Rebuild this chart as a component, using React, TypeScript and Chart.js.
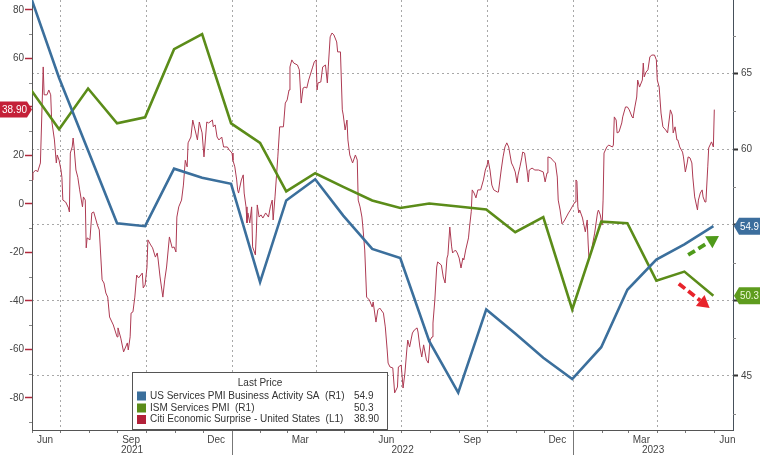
import React, { useEffect, useRef } from 'react';
import { Chart, registerables } from 'chart.js';

Chart.register(...registerables);

const FONT = "'Liberation Sans', Arial, sans-serif";
const BASE = Date.UTC(2021, 5, 1);
function dayOf(s: string): number {
  const [y, m, d] = s.split('-').map(Number);
  return Math.round((Date.UTC(y, m - 1, d) - BASE) / 86400000);
}

// ---- monthly PMI series (month-end) ----
const pmiDates = [
  '2021-05-31', '2021-06-30', '2021-07-31', '2021-08-31', '2021-09-30', '2021-10-31', '2021-11-30', '2021-12-31',
  '2022-01-31', '2022-02-28', '2022-03-31', '2022-04-30', '2022-05-31', '2022-06-30', '2022-07-31', '2022-08-31',
  '2022-09-30', '2022-10-31', '2022-11-30', '2022-12-31', '2023-01-31', '2023-02-28', '2023-03-31', '2023-04-30',
  '2023-05-31',
];
const usServicesPmi = [70.0, 64.7, 59.9, 55.1, 54.9, 58.7, 58.1, 57.7, 51.2, 56.6, 58.0, 55.6, 53.4, 52.8, 47.3, 43.9, 49.4, 47.8, 46.2, 44.8, 46.9, 50.7, 52.7, 53.7, 54.9];
const ismServicesPmi = [63.9, 61.3, 64.0, 61.7, 62.1, 66.6, 67.6, 61.7, 60.4, 57.2, 58.4, 57.5, 56.6, 56.1, 56.4, 56.2, 56.0, 54.5, 55.5, 49.4, 55.2, 55.1, 51.3, 51.9, 50.3];

// ---- daily Citi Economic Surprise (days since 2021-06-01) ----
const citiDays = [
  0, 1, 4, 6, 9, 12, 13, 16, 18, 20, 21, 24, 26, 27, 29, 31, 32, 33, 36, 39, 40, 41, 43, 44, 45, 47, 49, 51, 54, 55,
  57, 58, 59, 62, 64, 66, 70, 72, 75, 77, 79, 81, 83, 87, 91, 92, 95, 98, 102, 103, 105, 106, 108, 110, 112, 114, 118, 119, 121, 123,
  124, 127, 129, 132, 134, 135, 137, 140, 142, 144, 147, 150, 152, 154, 155, 157, 160, 162, 164, 166, 167, 170, 172, 174, 177, 179, 182, 184, 187, 189,
  193, 194, 196, 198, 200, 203, 205, 209, 211, 214, 215, 217, 219, 220, 221, 224, 226, 227, 229, 230, 231, 233, 235, 236, 239, 240, 241, 243, 245, 247,
  250, 253, 255, 257, 258, 260, 263, 265, 269, 271, 273, 275, 276, 278, 280, 284, 286, 288, 290, 292, 294, 296, 300, 302, 304, 305, 306, 309, 311, 314,
  316, 317, 319, 321, 323, 326, 327, 330, 332, 333, 335, 337, 338, 340, 343, 346, 348, 349, 351, 353, 354, 356, 358, 361, 364, 365, 368, 370, 372, 376,
  378, 380, 381, 383, 386, 388, 391, 392, 395, 397, 399, 401, 402, 404, 407, 409, 412, 413, 415, 417, 419, 422, 424, 426, 428, 429, 431, 433, 434, 438,
  440, 442, 444, 445, 447, 449, 450, 453, 455, 457, 459, 461, 462, 464, 467, 468, 470, 471, 473, 475, 477, 480, 483, 485, 487, 488, 490, 492, 494, 498,
  499, 502, 504, 506, 508, 510, 513, 515, 517, 519, 520, 522, 524, 525, 527, 530, 531, 532, 535, 538, 542, 547, 549, 551, 552, 555, 557, 560, 562, 563,
  565, 567, 568, 570, 574, 576, 579, 581, 582, 583, 584, 585, 586, 589, 590, 592, 594, 595, 596, 598, 600, 602, 605, 606, 608, 610, 611, 612, 615, 617,
  621, 622, 623, 625, 626, 628, 631, 632, 635, 637, 639, 642, 643, 645, 647, 648, 650, 653, 654, 655, 657, 659, 661, 663, 666, 668, 669, 671, 673, 675,
  678, 680, 683, 685, 686, 688, 690, 691, 693, 696, 697, 699, 701, 702, 704, 706, 707, 709, 712, 713, 715, 717, 718, 720, 721, 723, 724, 727, 729, 730,
];
const citiValues = [
  9.9, 12.8, 14, 13.2, 16.9, 56.5, 45, 45, 47, 45, 34.6, 26.4, 16.9, 20.2, 18, 14, 11, 1.6, 0.8, -1.6, -3.3, 21, 23.5, 27.2, 23.5, 14, 11, 5.8, -1.2, 2.9,
  1.6, -18.1, -14, -14.8, -3.7, -3.3, -8.7, -10.7, -31.3, -32.6, -36.7, -38.4, -46.6, -49.9, -54.8, -51.1, -55.3, -61, -57.3, -60.2, -54.8, -45, -44.5, -38.4, -29.3, -30.5, -28.5, -34.6, -33.4, -26,
  -14.8, -16.9, -18.1, -21.9, -20.2, -23.1, -30.1, -38.4, -31.3, -26, -13.6, -18.1, -17.7, -19.8, -5.4, -1.2, 1.6, 7.8, 18, 15.3, 25.2, 27.6, 34.6, 31.3, 26.4, 33.8, 29.3, 19.4, 33.8, 33.4,
  34.6, 31.8, 32.6, 27.6, 26.4, 27.6, 23.5, 23.5, 22.3, 21, 18, 15.3, 9.9, 5.8, 4.5, 9.9, 12, 4.5, -1.2, -7.8, -3.7, -7.8, -1.2, -17.7, -21, -12, -0.4, -5.4, -4.5, -5.8,
  -3.7, -5.4, -1.2, 1.6, -6.6, 2.9, 19.4, 31.8, 31.8, 41.6, 42.9, 47, 56.5, 59.4, 58.1, 57.3, 55.3, 41.6, 47.8, 48.2, 47.8, 51.1, 56.1, 58.6, 59.4, 47, 49.9, 50.3, 56.5, 57.3,
  49.9, 56.5, 68.9, 70.5, 69.7, 66.8, 62.7, 62.7, 38.8, 36.7, 30.5, 34.6, 26.4, 20.2, 16.9, 20.2, 18.1, 1.6, -1.2, -5.4, -9.5, -19, -38.4, -39.6, -42.5, -40.4, -48.7, -43.7, -42.9, -45,
  -50.7, -60.2, -65.6, -67.2, -67.6, -77.9, -75.5, -67.2, -66.4, -75.9, -69.7, -60.2, -56.1, -59, -53.2, -52, -51.1, -52.8, -59, -63.1, -58.1, -64.3, -65.6, -56.1, -54.8, -49.1, -39.6, -26, -23.9, -25.2,
  -30.1, -32.6, -22.3, -21, -9.5, -17.7, -20.2, -19, -20.2, -22.3, -26.4, -22.3, -23.1, -19, -14, -9.9, -3, 5.8, 4.5, 2.5, 5.8, 5.8, 9.9, 14, 16.1, 18.1, 14, 7.8, 5.8, 4.9,
  4.9, 14, 19.4, 23.5, 25.2, 23.5, 16.9, 15.3, 13.2, 8.7, 11.9, 15.3, 19, 21.4, 21, 12.8, 9.1, 14, 14.8, 14, 14, 13.2, 9.1, 12.8, 19.4, 19, 18.1, 16.9, 11.1, 1.6,
  -2.5, -8.2, -7.8, -6.6, -3.7, -2.5, -0.4, 0.8, 9.9, 9.3, -1.2, -3.7, -2.5, -5.8, -7.8, -11.5, -6.6, -16.1, -23.1, -20.2, -16.1, -12, -3.7, -2.5, -4.5, -8.7, 1.6, 21, 23.5, 24.3,
  23.5, 24.3, 35.9, 34.6, 29.3, 29.7, 33.4, 35.9, 40, 40, 38.8, 35.9, 35.5, 40, 44.1, 51.1, 48.2, 51.1, 58.1, 52.4, 54.4, 55.3, 60.6, 61.4, 61.4, 59.4, 51.1, 48.2, 37.5, 31.8,
  30.5, 29.3, 38.8, 36.7, 29.3, 31.8, 26.4, 26.4, 23.5, 21.4, 19.4, 13.2, 16.9, 19.4, 19, 16.9, 11.1, 2.9, -2.5, 1.6, 4.5, 5.8, 2.9, 0.8, 0.8, 15.3, 23.1, 25.6, 23.5, 38.9,
];

// ---- axes / labels ----
const xLabelDates = ['2021-06-15', '2021-09-15', '2021-12-15', '2022-03-15', '2022-06-15', '2022-09-15', '2022-12-15', '2023-03-15', '2023-06-15'];
const xTickLabels = ['Jun', 'Sep', 'Dec', 'Mar', 'Jun', 'Sep', 'Dec', 'Mar', 'Jun'];
const yearBreaks = ['2022-01-01', '2023-01-01'];
const yearLabels = ['2021', '2022', '2023'];
const leftTicks = [-80, -60, -40, -20, 0, 20, 40, 60, 80];
const rightTicks = [45, 50, 55, 60, 65];
const seriesNames = ['US Services PMI Business Activity SA  (R1)', 'ISM Services PMI  (R1)', 'Citi Economic Surprise - United States  (L1)'];
const lastValues = ['54.9', '50.3', '38.90'];
const legendTitle = 'Last Price';

// annotation arrows in data units (day, right-axis value)
const arrowsR = [
  { from: [702, 53.0], to: [735, 54.25], color: '#4f9a1a' },
  { from: [692, 51.1], to: [725, 49.5], color: '#e8232b' },
];

const BLUE = '#3b6f9c';
const GREEN = '#5b8c19';
const RED = '#ad3a52';

// month starts for tick marks / quarter gridlines
const monthStarts: number[] = [];
const quarterStarts = new Set<number>();
for (let i = 0; i <= 24; i++) {
  const y = 2021 + Math.floor((5 + i) / 12);
  const m = (5 + i) % 12;
  const d = Math.round((Date.UTC(y, m, 1) - BASE) / 86400000);
  monthStarts.push(d);
  if (m % 3 === 0) quarterStarts.add(d);
}
const monthStartSet = new Set(monthStarts);
const labelMap = new Map<number, string>();
xLabelDates.forEach((s, i) => labelMap.set(dayOf(s), xTickLabels[i]));

function drawArrow(ctx: CanvasRenderingContext2D, x1: number, y1: number, x2: number, y2: number, color: string) {
  const ang = Math.atan2(y2 - y1, x2 - x1);
  const head = 12;
  const hw = 7;
  const bx = x2 - head * Math.cos(ang);
  const by = y2 - head * Math.sin(ang);
  ctx.save();
  ctx.strokeStyle = color;
  ctx.lineWidth = 3.8;
  ctx.setLineDash([8, 4]);
  ctx.beginPath();
  ctx.moveTo(x1, y1);
  ctx.lineTo(bx, by);
  ctx.stroke();
  ctx.setLineDash([]);
  ctx.fillStyle = color;
  ctx.beginPath();
  ctx.moveTo(x2, y2);
  ctx.lineTo(bx + hw * Math.sin(ang), by - hw * Math.cos(ang));
  ctx.lineTo(bx - hw * Math.sin(ang), by + hw * Math.cos(ang));
  ctx.closePath();
  ctx.fill();
  ctx.restore();
}

function badge(ctx: CanvasRenderingContext2D, xBody0: number, xBody1: number, tipX: number, yc: number, h: number, fill: string, text: string, textColor: string, textX: number, maxW: number) {
  ctx.save();
  ctx.fillStyle = fill;
  ctx.beginPath();
  if (tipX > xBody1) {
    ctx.moveTo(xBody0, yc - h / 2);
    ctx.lineTo(xBody1, yc - h / 2);
    ctx.lineTo(tipX, yc);
    ctx.lineTo(xBody1, yc + h / 2);
    ctx.lineTo(xBody0, yc + h / 2);
  } else {
    ctx.moveTo(xBody1, yc - h / 2);
    ctx.lineTo(xBody0, yc - h / 2);
    ctx.lineTo(tipX, yc);
    ctx.lineTo(xBody0, yc + h / 2);
    ctx.lineTo(xBody1, yc + h / 2);
  }
  ctx.closePath();
  ctx.fill();
  ctx.fillStyle = textColor;
  ctx.font = `10.5px ${FONT}`;
  ctx.textAlign = 'left';
  ctx.textBaseline = 'middle';
  ctx.fillText(text, textX, yc + 0.5, maxW);
  ctx.restore();
}

const decorPlugin = {
  id: 'decor',
  afterDatasetsDraw(chart: any) {
    const ctx: CanvasRenderingContext2D = chart.ctx;
    const xs = chart.scales.x;
    const y1 = chart.scales.y1;
    // arrows
    arrowsR.forEach((a) => {
      drawArrow(ctx, xs.getPixelForValue(a.from[0]), y1.getPixelForValue(a.from[1]), xs.getPixelForValue(a.to[0]), y1.getPixelForValue(a.to[1]), a.color);
    });
    // legend box
    const bx = 132.5, by = 372.5, bw = 255, bh = 57;
    ctx.save();
    ctx.fillStyle = '#ffffff';
    ctx.fillRect(bx, by, bw, bh);
    ctx.strokeStyle = '#555';
    ctx.lineWidth = 1;
    ctx.strokeRect(bx, by, bw, bh);
    ctx.font = `10px ${FONT}`;
    ctx.fillStyle = '#333';
    ctx.textBaseline = 'middle';
    ctx.textAlign = 'center';
    ctx.fillText(legendTitle, bx + bw / 2, 383);
    const rows = [396, 408, 419.5];
    const swatch = [BLUE, GREEN, '#b3213a'];
    ctx.textAlign = 'left';
    rows.forEach((ry, i) => {
      ctx.fillStyle = swatch[i];
      ctx.fillRect(137, ry - 4.5, 9, 9);
      ctx.fillStyle = '#333';
      ctx.fillText(seriesNames[i], 150, ry);
      const w = ctx.measureText(seriesNames[i]).width;
      ctx.fillText(lastValues[i], Math.max(354, 150 + w + 3), ry);
    });
    ctx.restore();
  },
  afterDraw(chart: any) {
    const ctx: CanvasRenderingContext2D = chart.ctx;
    const xs = chart.scales.x;
    const yl = chart.scales.y;
    const y1 = chart.scales.y1;
    const area = chart.chartArea;
    ctx.save();
    // minor ticks left
    ctx.strokeStyle = '#888';
    ctx.lineWidth = 1;
    for (let v = -90; v <= 80; v += 20) {
      const p = Math.round(yl.getPixelForValue(v)) + 0.5;
      ctx.beginPath();
      ctx.moveTo(area.left - 3, p);
      ctx.lineTo(area.left, p);
      ctx.stroke();
    }
    // minor ticks right
    for (let v = 42.5; v < 70; v += 5) {
      const p = Math.round(y1.getPixelForValue(v)) + 0.5;
      ctx.beginPath();
      ctx.moveTo(area.right, p);
      ctx.lineTo(area.right + 3, p);
      ctx.stroke();
    }
    // year labels and separators
    const edges = [area.left, ...yearBreaks.map((s) => xs.getPixelForValue(dayOf(s))), area.right];
    ctx.strokeStyle = '#777';
    yearBreaks.forEach((s) => {
      const p = Math.round(xs.getPixelForValue(dayOf(s))) + 0.5;
      ctx.beginPath();
      ctx.moveTo(p, area.bottom + 3);
      ctx.lineTo(p, 455);
      ctx.stroke();
    });
    ctx.font = `10px ${FONT}`;
    ctx.fillStyle = '#444';
    ctx.textAlign = 'center';
    ctx.textBaseline = 'middle';
    yearLabels.forEach((t, i) => {
      ctx.fillText(t, (edges[i] + edges[i + 1]) / 2, 450);
    });
    ctx.restore();
    // value badges
    const lastCiti = citiValues[citiValues.length - 1];
    badge(ctx, 0, 27, 32, yl.getPixelForValue(lastCiti), 16, '#c42038', lastValues[2], '#ffffff', 2, 25);
    badge(ctx, 739, 760, 734, y1.getPixelForValue(usServicesPmi[usServicesPmi.length - 1]), 17, '#3c6e9d', lastValues[0], '#ffffff', 740, 19);
    badge(ctx, 739, 760, 734, y1.getPixelForValue(ismServicesPmi[ismServicesPmi.length - 1]), 17, '#5e9c1e', lastValues[1], '#eef8d8', 740, 19);
  },
};

export default function App() {
  const ref = useRef<HTMLCanvasElement>(null);
  useEffect(() => {
    const canvas = ref.current;
    if (!canvas) return;
    const pmiX = pmiDates.map(dayOf);
    const chart = new Chart(canvas, {
      type: 'line',
      data: {
        datasets: [
          {
            label: seriesNames[0],
            data: pmiX.map((d, i) => ({ x: d, y: usServicesPmi[i] })),
            yAxisID: 'y1',
            borderColor: BLUE,
            borderWidth: 2.6,
            pointRadius: 0,
            clip: 0,
          },
          {
            label: seriesNames[1],
            data: pmiX.map((d, i) => ({ x: d, y: ismServicesPmi[i] })),
            yAxisID: 'y1',
            borderColor: GREEN,
            borderWidth: 2.6,
            pointRadius: 0,
            clip: 0,
          },
          {
            label: seriesNames[2],
            data: citiDays.map((d, i) => ({ x: d, y: citiValues[i] })),
            yAxisID: 'y',
            borderColor: RED,
            borderWidth: 1,
            pointRadius: 0,
            clip: 0,
          },
        ],
      } as any,
      options: {
        responsive: false,
        animation: false,
        devicePixelRatio: 1,
        layout: { padding: 0 },
        elements: { line: { tension: 0 }, point: { radius: 0 } },
        plugins: { legend: { display: false }, tooltip: { enabled: false } },
        scales: {
          x: {
            type: 'linear',
            position: 'bottom',
            min: 0,
            max: 750,
            afterBuildTicks: (s: any) => {
              const t = [...monthStarts, ...Array.from(labelMap.keys())].sort((a, b) => a - b);
              s.ticks = t.map((v) => ({ value: v }));
            },
            afterFit: (s: any) => {
              s.height = 25;
              s.paddingLeft = 0;
              s.paddingRight = 0;
            },
            ticks: {
              autoSkip: false,
              maxRotation: 0,
              minRotation: 0,
              padding: 1,
              color: '#444',
              font: { family: FONT, size: 10 },
              callback: (v: any) => labelMap.get(Number(v)) ?? '',
            },
            grid: {
              drawOnChartArea: true,
              drawTicks: true,
              tickLength: 3,
              color: (c: any) => (c.tick && quarterStarts.has(c.tick.value) ? '#a8a8a8' : 'rgba(0,0,0,0)'),
              tickColor: (c: any) => (c.tick && monthStartSet.has(c.tick.value) ? '#777' : 'rgba(0,0,0,0)'),
              lineWidth: 1,
            },
            border: { display: true, color: '#555', width: 1, dash: [2, 3] },
          },
          y: {
            type: 'linear',
            position: 'left',
            min: -93.2,
            max: 84.1,
            afterBuildTicks: (s: any) => {
              s.ticks = leftTicks.map((v) => ({ value: v }));
            },
            afterFit: (s: any) => {
              s.width = 32;
              s.paddingTop = 0;
              s.paddingBottom = 0;
            },
            ticks: {
              padding: 1,
              color: '#444',
              font: { family: FONT, size: 10 },
              callback: (v: any) => String(v),
            },
            grid: {
              drawOnChartArea: false,
              drawTicks: true,
              tickLength: 7,
              tickColor: '#b0283c',
              tickWidth: 1.5,
            },
            border: { display: true, color: '#555', width: 1 },
          },
          y1: {
            type: 'linear',
            position: 'right',
            min: 41.43,
            max: 69.85,
            afterBuildTicks: (s: any) => {
              s.ticks = rightTicks.map((v) => ({ value: v }));
            },
            afterFit: (s: any) => {
              s.width = 27;
              s.paddingTop = 0;
              s.paddingBottom = 0;
            },
            ticks: {
              padding: 3,
              color: '#444',
              font: { family: FONT, size: 10 },
              callback: (v: any) => String(v),
            },
            grid: {
              drawOnChartArea: true,
              drawTicks: true,
              tickLength: 5,
              color: '#a8a8a8',
              tickColor: '#333',
              tickWidth: 2,
              lineWidth: 1,
            },
            border: { display: true, color: '#46505a', width: 1, dash: [2, 3] },
          },
        },
      } as any,
      plugins: [decorPlugin],
    });
    return () => chart.destroy();
  }, []);
  return (
    <div style={{ position: 'fixed', left: 0, top: 0, width: 760, height: 455, background: '#ffffff' }}>
      <canvas ref={ref} width={760} height={455} style={{ display: 'block', width: 760, height: 455 }} />
    </div>
  );
}
